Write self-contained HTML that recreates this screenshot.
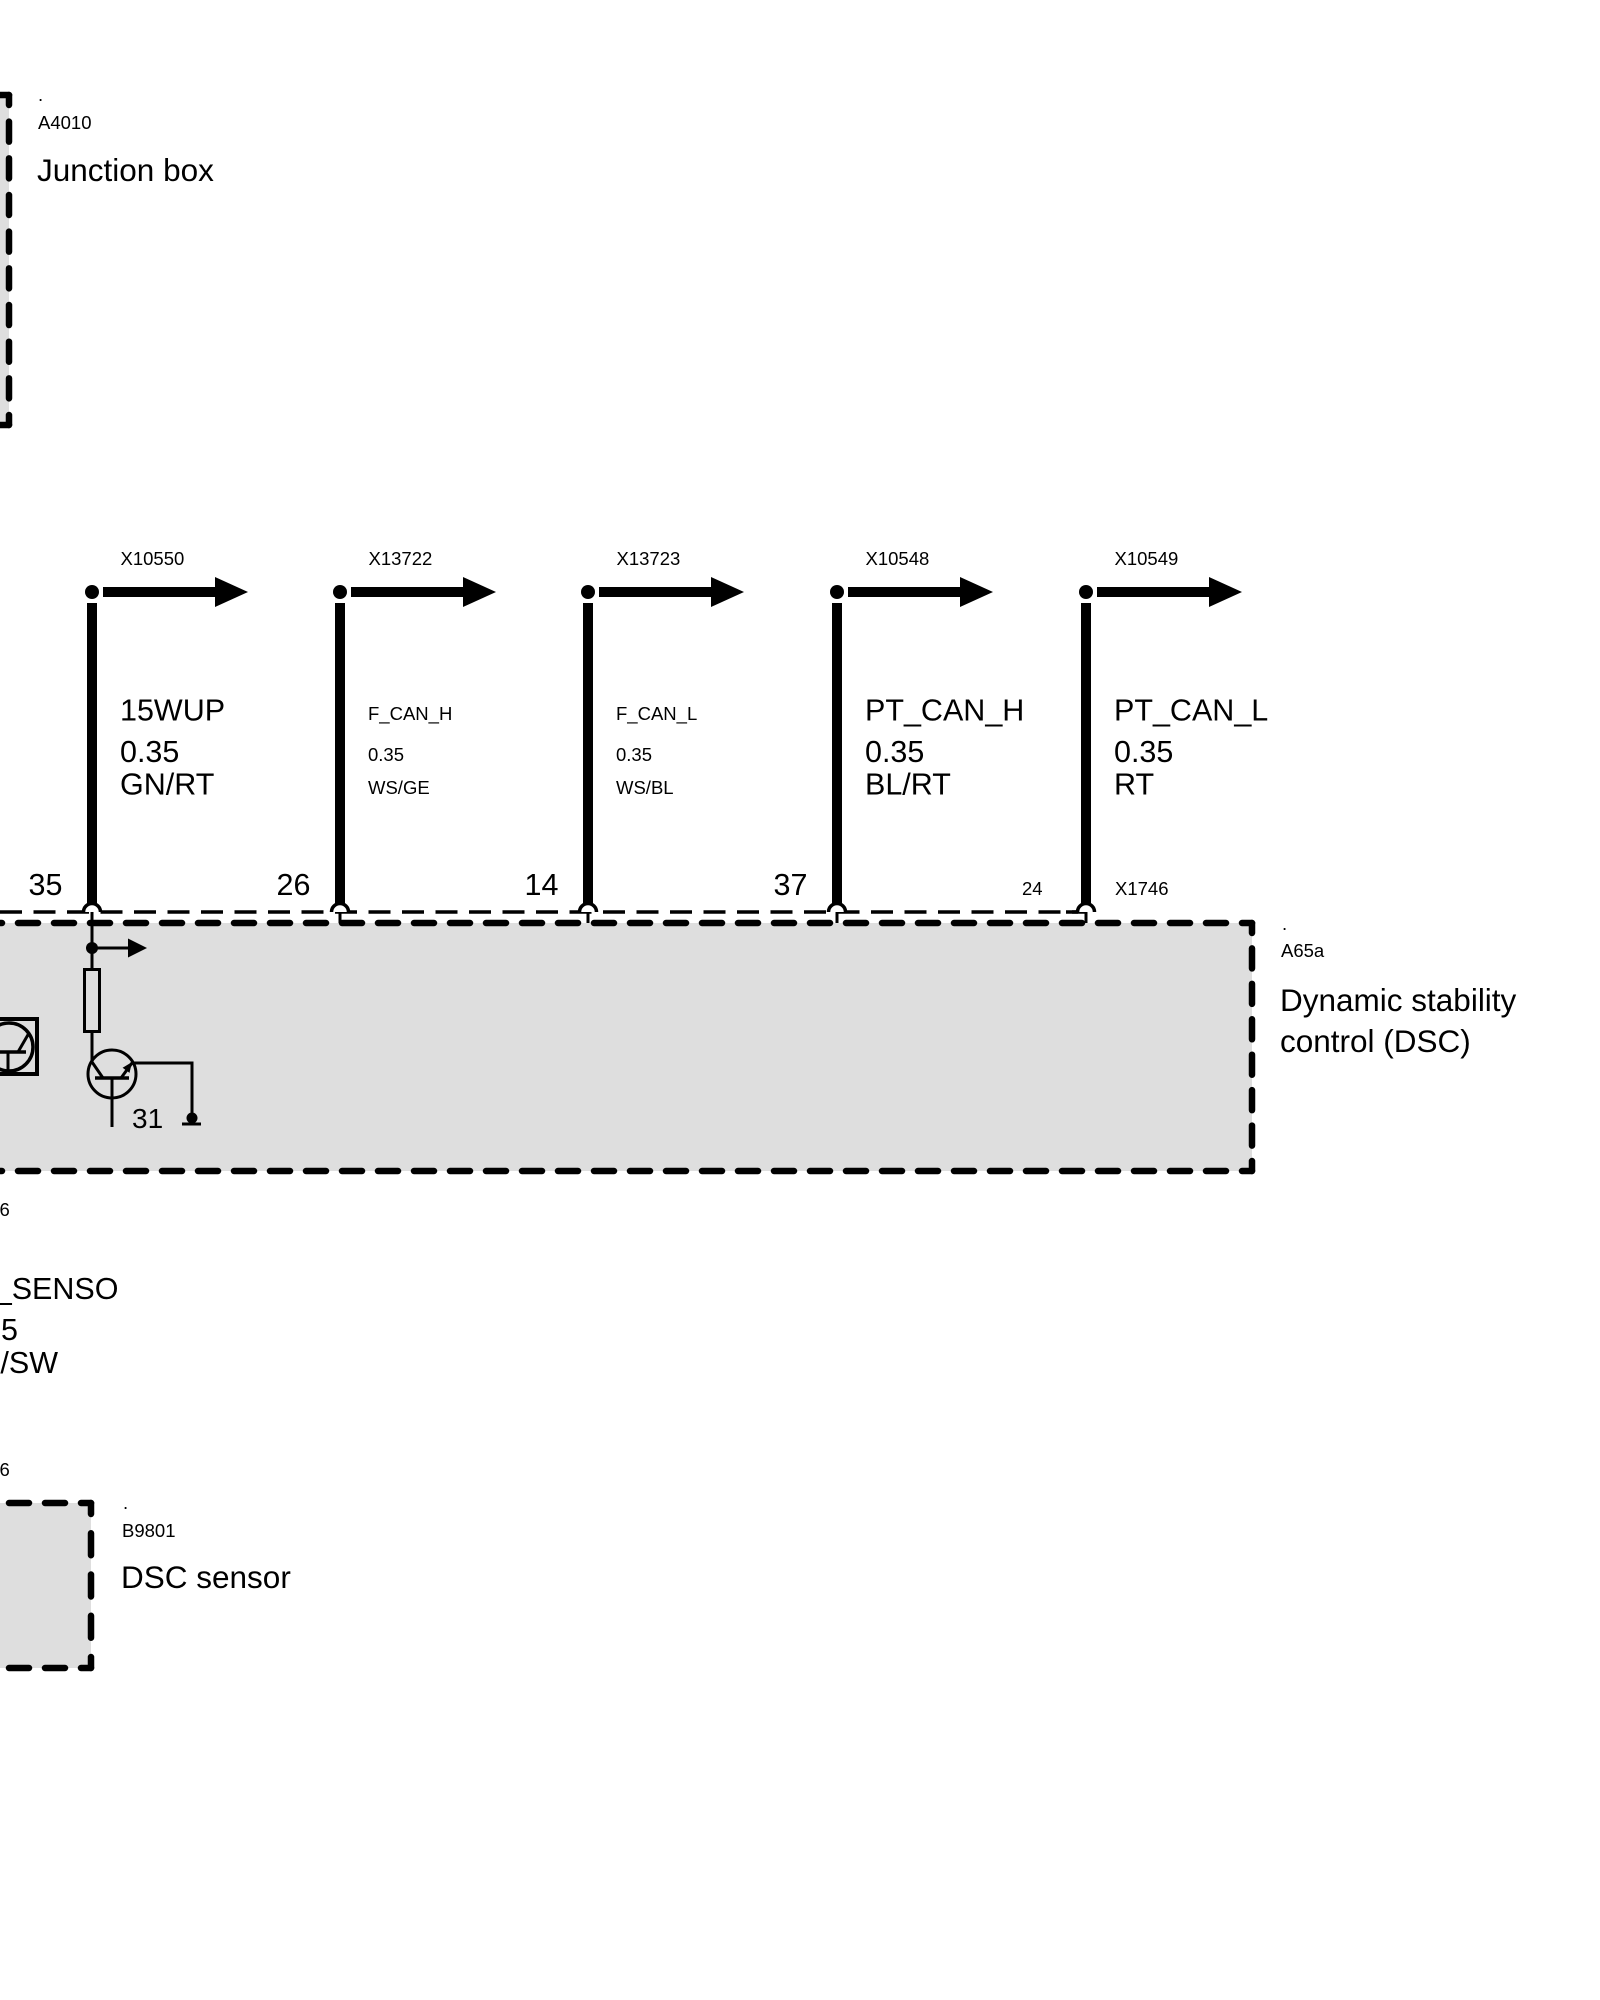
<!DOCTYPE html>
<html>
<head>
<meta charset="utf-8">
<style>
  html, body { margin: 0; padding: 0; background: #ffffff; }
  body { width: 1600px; height: 2000px; overflow: hidden; }
  svg { display: block; }
  text { font-family: "Liberation Sans", Arial, sans-serif; fill: #000; }
  .s { font-size: 18.5px; }
  .b { font-size: 30.5px; }
  .t { font-size: 31.5px; }
</style>
</head>
<body>
<svg width="1600" height="2000" viewBox="0 0 1600 2000" xmlns="http://www.w3.org/2000/svg">
  <rect x="0" y="0" width="1600" height="2000" fill="#ffffff"/>

  <!-- ===== Junction box A4010 (top-left, clipped) ===== -->
  <rect x="-10" y="95" width="19" height="330" fill="#dedede"/>
  <g fill="none" stroke="#000" stroke-width="6.5" stroke-linecap="round">
    <path d="M9,95 V425" stroke-dasharray="20 16.67" stroke-dashoffset="10"/>
    <path d="M9,95 H-30" stroke-dasharray="20 16" stroke-dashoffset="10"/>
    <path d="M9,425 H-30" stroke-dasharray="20 16" stroke-dashoffset="10"/>
  </g>
  <text class="s" x="38" y="101">.</text>
  <text class="s" x="38" y="129">A4010</text>
  <text class="t" x="37" y="181">Junction box</text>

  <!-- ===== DSC box A65a fill ===== -->
  <rect x="0" y="923" width="1252" height="248" fill="#dedede"/>

  <!-- thin dashed connector line -->
  <path d="M0,912 H1086" fill="none" stroke="#000" stroke-width="3.5" stroke-dasharray="22 11.5"/>

  <!-- DSC box border -->
  <g fill="none" stroke="#000" stroke-width="6.5" stroke-linecap="round">
    <path d="M1252,923 H-30" stroke-dasharray="20 16" stroke-dashoffset="10"/>
    <path d="M1252,923 V1171" stroke-dasharray="20 15.43" stroke-dashoffset="10"/>
    <path d="M1252,1171 H-30" stroke-dasharray="20 16" stroke-dashoffset="10"/>
  </g>

  <!-- ===== Wires ===== -->
  <g id="wires">
    <!-- Wire 1 -->
    <circle cx="92" cy="592" r="7" fill="#000"/>
    <rect x="103" y="587" width="113" height="10" fill="#000"/>
    <polygon points="215,577 248,592 215,607" fill="#000"/>
    <rect x="87" y="603" width="10" height="302" fill="#000"/>
    <path d="M83.5,912 A8.5,8.5 0 0 1 100.5,912" fill="#fff" stroke="#000" stroke-width="3.5"/>
    <line x1="92" y1="912" x2="92" y2="923" stroke="#000" stroke-width="3"/>

    <!-- Wire 2 -->
    <circle cx="340" cy="592" r="7" fill="#000"/>
    <rect x="351" y="587" width="113" height="10" fill="#000"/>
    <polygon points="463,577 496,592 463,607" fill="#000"/>
    <rect x="335" y="603" width="10" height="302" fill="#000"/>
    <path d="M331.5,912 A8.5,8.5 0 0 1 348.5,912" fill="#fff" stroke="#000" stroke-width="3.5"/>
    <line x1="340" y1="912" x2="340" y2="923" stroke="#000" stroke-width="3"/>

    <!-- Wire 3 -->
    <circle cx="588" cy="592" r="7" fill="#000"/>
    <rect x="599" y="587" width="113" height="10" fill="#000"/>
    <polygon points="711,577 744,592 711,607" fill="#000"/>
    <rect x="583" y="603" width="10" height="302" fill="#000"/>
    <path d="M579.5,912 A8.5,8.5 0 0 1 596.5,912" fill="#fff" stroke="#000" stroke-width="3.5"/>
    <line x1="588" y1="912" x2="588" y2="923" stroke="#000" stroke-width="3"/>

    <!-- Wire 4 -->
    <circle cx="837" cy="592" r="7" fill="#000"/>
    <rect x="848" y="587" width="113" height="10" fill="#000"/>
    <polygon points="960,577 993,592 960,607" fill="#000"/>
    <rect x="832" y="603" width="10" height="302" fill="#000"/>
    <path d="M828.5,912 A8.5,8.5 0 0 1 845.5,912" fill="#fff" stroke="#000" stroke-width="3.5"/>
    <line x1="837" y1="912" x2="837" y2="923" stroke="#000" stroke-width="3"/>

    <!-- Wire 5 -->
    <circle cx="1086" cy="592" r="7" fill="#000"/>
    <rect x="1097" y="587" width="113" height="10" fill="#000"/>
    <polygon points="1209,577 1242,592 1209,607" fill="#000"/>
    <rect x="1081" y="603" width="10" height="302" fill="#000"/>
    <line x1="1066" y1="912" x2="1078" y2="912" stroke="#000" stroke-width="3.5"/>
    <path d="M1077.5,912 A8.5,8.5 0 0 1 1094.5,912" fill="#fff" stroke="#000" stroke-width="3.5"/>
    <line x1="1086" y1="912" x2="1086" y2="923" stroke="#000" stroke-width="3"/>
  </g>

  <!-- Connector labels above arrows -->
  <text class="s" x="120.5" y="565">X10550</text>
  <text class="s" x="368.5" y="565">X13722</text>
  <text class="s" x="616.5" y="565">X13723</text>
  <text class="s" x="865.5" y="565">X10548</text>
  <text class="s" x="1114.5" y="565">X10549</text>

  <!-- Wire labels -->
  <text class="b" x="120" y="720.5">15WUP</text>
  <text class="b" x="120" y="762">0.35</text>
  <text class="b" x="120" y="794.5">GN/RT</text>

  <text class="s" x="368" y="720">F_CAN_H</text>
  <text class="s" x="368" y="761">0.35</text>
  <text class="s" x="368" y="794">WS/GE</text>

  <text class="s" x="616" y="720">F_CAN_L</text>
  <text class="s" x="616" y="761">0.35</text>
  <text class="s" x="616" y="794">WS/BL</text>

  <text class="b" x="865" y="720.5">PT_CAN_H</text>
  <text class="b" x="865" y="762">0.35</text>
  <text class="b" x="865" y="794.5">BL/RT</text>

  <text class="b" x="1114" y="720.5">PT_CAN_L</text>
  <text class="b" x="1114" y="762">0.35</text>
  <text class="b" x="1114" y="794.5">RT</text>

  <!-- Pin numbers -->
  <text class="b" x="28.5" y="895">35</text>
  <text class="b" x="276.5" y="895">26</text>
  <text class="b" x="524.5" y="895">14</text>
  <text class="b" x="773.5" y="895">37</text>
  <text class="s" x="1022" y="895">24</text>
  <text class="s" x="1115" y="895">X1746</text>

  <!-- ===== Internal circuit (wire 1) ===== -->
  <g fill="none" stroke="#000" stroke-width="3">
    <line x1="92" y1="912" x2="92" y2="969"/>
    <line x1="92" y1="948" x2="130" y2="948"/>
    <rect x="84.5" y="969.5" width="15" height="62"/>
    <polyline points="92,1031 92,1062 103,1078"/>
    <circle cx="112" cy="1074" r="24"/>
    <line x1="95" y1="1078" x2="129" y2="1078" stroke-width="3.5"/>
    <line x1="112" y1="1078" x2="112" y2="1127"/>
    <polyline points="121,1078 132,1063 192,1063 192,1118"/>
    <line x1="182" y1="1124" x2="201" y2="1124"/>
  </g>
  <circle cx="92" cy="948" r="6" fill="#000"/>
  <polygon points="128,938.5 147,948 128,957.5" fill="#000"/>
  <polygon points="132,1062 129.5,1072.9 122.6,1067.8" fill="#000"/>
  <circle cx="192" cy="1118" r="5.5" fill="#000"/>
  <text x="132" y="1128" style="font-size:28px">31</text>

  <!-- Left clipped component -->
  <g fill="none" stroke="#000">
    <path d="M-5,1019 H37 V1074 H-5" stroke-width="4"/>
    <circle cx="9" cy="1047" r="24" stroke-width="3.5"/>
    <line x1="-10" y1="1052" x2="26" y2="1052" stroke-width="3.5"/>
    <line x1="8" y1="1052" x2="8" y2="1070" stroke-width="3"/>
    <line x1="18" y1="1052" x2="29" y2="1033" stroke-width="3"/>
  </g>

  <!-- DSC labels -->
  <text class="s" x="1282" y="930">.</text>
  <text class="s" x="1281" y="957">A65a</text>
  <text class="t" x="1280" y="1011">Dynamic stability</text>
  <text class="t" x="1280" y="1052">control (DSC)</text>

  <!-- Left clipped wire labels below DSC -->
  <text class="s" x="-0.5" y="1216">6</text>
  <text class="b" x="118.5" y="1299" text-anchor="end">_SENSO</text>
  <text class="b" x="18" y="1340" text-anchor="end">5</text>
  <text class="b" x="58" y="1373" text-anchor="end">/SW</text>
  <text class="s" x="-0.5" y="1476">6</text>

  <!-- ===== DSC sensor B9801 ===== -->
  <rect x="-10" y="1503" width="101" height="165" fill="#dedede"/>
  <g fill="none" stroke="#000" stroke-width="6.5" stroke-linecap="round">
    <path d="M91,1503 V1668" stroke-dasharray="22 19.25" stroke-dashoffset="11"/>
    <path d="M91,1503 H-30" stroke-dasharray="20 16" stroke-dashoffset="10"/>
    <path d="M91,1668 H-30" stroke-dasharray="20 16" stroke-dashoffset="10"/>
  </g>
  <text class="s" x="123" y="1509">.</text>
  <text class="s" x="122" y="1537">B9801</text>
  <text class="t" x="121" y="1588">DSC sensor</text>
</svg>
</body>
</html>
